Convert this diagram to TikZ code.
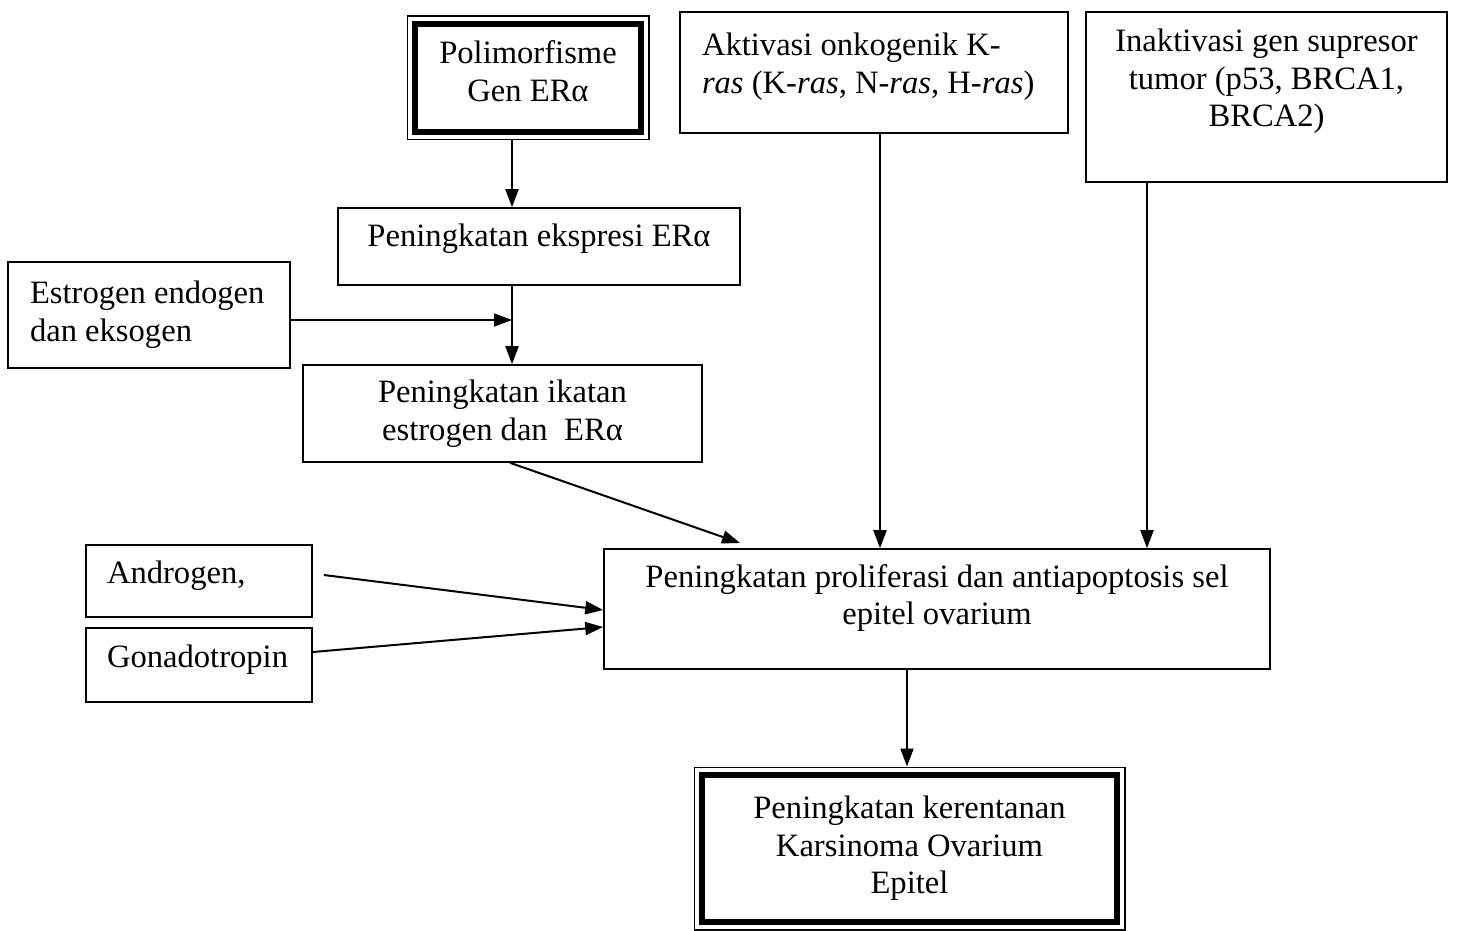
\documentclass[tikz,border=0pt]{standalone}
\usepackage{fontspec}
\setmainfont{Liberation Serif}
\usetikzlibrary{arrows.meta, fit}
\newcommand{\lift}[1]{\rule[-#1]{0pt}{#1}}

\begin{document}
\begin{tikzpicture}[
    x=0.5pt, y=-0.5pt,
    every node/.style={font=\fontsize{16.3}{18.8}\selectfont},
    box/.style={draw, line width=0.8pt, align=center, inner sep=0pt},
    leftbox/.style={draw, line width=0.8pt, align=flush left, inner ysep=0pt},
    thickbox/.style={draw, line width=3.3pt, align=center, inner sep=0pt},
    frame/.style={draw, line width=0.8pt, inner sep=2.2pt},
    arrow/.style={-{Triangle[length=9pt,width=6.5pt]}, line width=1pt}
  ]

  \path[use as bounding box, fill=white] (0,0) rectangle (1457,931);

  % left column
  \node[thickbox, minimum width=113pt, minimum height=54pt] (poli) at (528,78) {Polimorfisme\\Gen ERα\lift{7pt}};
  \node[frame, fit=(poli)] (poliframe) {};

  \node[box, minimum width=201pt, minimum height=38.5pt] (ekspresi) at (539,246.5) {Peningkatan ekspresi ERα\lift{11.5pt}};

  \node[leftbox, text width=119pt, inner xsep=11pt, minimum height=53pt] (estrogen) at (149,315) {Estrogen endogen\\dan eksogen};

  \node[box, minimum width=199.5pt, minimum height=48.5pt] (ikatan) at (502.5,413.5) {Peningkatan ikatan\\estrogen dan\ \ ERα};

  \node[leftbox, text width=92pt, inner xsep=10.5pt, minimum height=36pt] (androgen) at (199,581) {Androgen,\lift{8.5pt}};
  \node[leftbox, text width=92pt, inner xsep=10.5pt, minimum height=37pt] (gonad) at (199,665) {Gonadotropin\lift{8.5pt}};

  % right column
  \node[leftbox, text width=172pt, inner xsep=11pt, minimum height=60.5pt] (aktivasi) at (874,72.5) {Aktivasi onkogenik K-\\\textit{ras} (K-\textit{ras}, N-\textit{ras}, H-\textit{ras})\lift{9.5pt}};

  \node[box, minimum width=180.5pt, minimum height=85pt] (inaktivasi) at (1266.5,97) {Inaktivasi gen supresor\\tumor (p53, BRCA1,\\BRCA2)\lift{19pt}};

  \node[box, minimum width=333pt, minimum height=60pt] (prolif) at (937,609) {Peningkatan proliferasi dan antiapoptosis sel\\epitel ovarium\lift{14.5pt}};

  \node[thickbox, minimum width=207.5pt, minimum height=73.5pt] (kerentanan) at (909.5,848.5) {Peningkatan kerentanan\\Karsinoma Ovarium\\Epitel};
  \node[frame, fit=(kerentanan)] (kerentananframe) {};

  % arrows
  \coordinate (joint) at (512,320);
  \coordinate (ikatantip) at (740,543);

  \draw[arrow] (poliframe.south -| 512,0) -- (ekspresi.north -| 512,0);
  \draw[arrow] (ekspresi.south -| 512,0) -- (ikatan.north -| 512,0);
  \draw[arrow] (estrogen.east |- joint) -- (joint);
  \draw[arrow] (ikatan.south -| 510,0) -- (ikatantip);
  \draw[arrow] (aktivasi.south -| 880,0) -- (prolif.north -| 880,0);
  \draw[arrow] (inaktivasi.south -| 1147,0) -- (prolif.north -| 1147,0);
  \draw[arrow] ([shift={(5.5pt,3pt)}]androgen.east) -- (prolif.west |- 0,610);
  \draw[arrow] (gonad.east |- 0,652) -- (prolif.west |- 0,627);
  \draw[arrow] (prolif.south -| 907,0) -- (kerentananframe.north -| 907,0);

\end{tikzpicture}
\end{document}
